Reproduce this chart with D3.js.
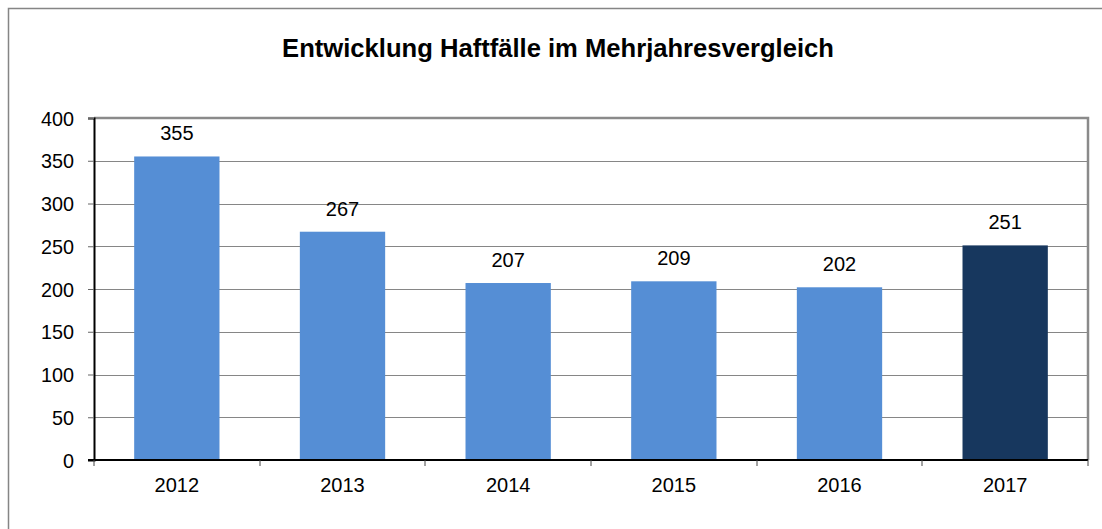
<!DOCTYPE html>
<html>
<head>
<meta charset="utf-8">
<script src="https://cdn.jsdelivr.net/npm/d3@7.9.0/dist/d3.min.js"></script>
<style>
  html, body { margin: 0; padding: 0; background: #fff; }
  text { font-family: "Liberation Sans", Arial, sans-serif; fill: #000; }
</style>
</head>
<body>
<div id="chart"></div>
<script>
const years = ['2012', '2013', '2014', '2015', '2016', '2017'];
const cases = [355, 267, 207, 209, 202, 251];
const yTicks = [0, 50, 100, 150, 200, 250, 300, 350, 400];
const title = 'Entwicklung Haftfälle im Mehrjahresvergleich';

const width = 1102;
const height = 529;
const plot = { left: 94, right: 1088, top: 118, bottom: 460 };

const svg = d3.select('#chart')
    .append('svg')
    .attr('width', width)
    .attr('height', height);

// Outer frame (cut off at right and bottom)
svg.append('rect')
    .attr('x', 8.5)
    .attr('y', 8.5)
    .attr('width', width + 20)
    .attr('height', height + 20)
    .attr('fill', 'none')
    .attr('stroke', '#858585')
    .attr('stroke-width', 1.5);

svg.append('text')
    .attr('x', 558)
    .attr('y', 57)
    .attr('text-anchor', 'middle')
    .attr('font-size', 25.6)
    .attr('font-weight', 'bold')
    .text(title);

const x = d3.scaleBand()
    .domain(years)
    .range([plot.left, plot.right])
    .paddingInner(0.485)
    .paddingOuter(0.2425);

const y = d3.scaleLinear()
    .domain([0, 400])
    .range([plot.bottom, plot.top]);

// Gridlines
svg.append('g')
    .selectAll('line')
    .data(yTicks.filter(d => d > 0 && d < 400))
    .join('line')
    .attr('x1', plot.left)
    .attr('x2', plot.right)
    .attr('y1', d => Math.round(y(d)) + 0.5)
    .attr('y2', d => Math.round(y(d)) + 0.5)
    .attr('stroke', '#868686')
    .attr('stroke-width', 1);

// Plot border top / right
svg.append('path')
    .attr('d', `M${plot.left},${plot.top} H${plot.right} V${plot.bottom}`)
    .attr('fill', 'none')
    .attr('stroke', '#8a8a8a')
    .attr('stroke-width', 2.5);

// Bars
svg.append('g')
    .selectAll('rect')
    .data(years.map((yr, i) => ({ yr, v: cases[i] })))
    .join('rect')
    .attr('x', d => x(d.yr))
    .attr('y', d => y(d.v))
    .attr('width', x.bandwidth())
    .attr('height', d => y(0) - y(d.v))
    .attr('fill', d => d.yr === '2017' ? '#17375e' : '#558ed5');

// Value labels
svg.append('g')
    .selectAll('text')
    .data(years.map((yr, i) => ({ yr, v: cases[i] })))
    .join('text')
    .attr('x', d => x(d.yr) + x.bandwidth() / 2)
    .attr('y', d => y(d.v) - 16)
    .attr('text-anchor', 'middle')
    .attr('font-size', 20)
    .text(d => d.v);

// Y axis
const yAxis = svg.append('g')
    .attr('transform', `translate(${plot.left},0)`)
    .call(d3.axisLeft(y).tickValues(yTicks).tickSize(6).tickPadding(14));
yAxis.select('.domain').attr('stroke', '#000').attr('stroke-width', 2);
yAxis.selectAll('.tick line').attr('stroke', '#666');
yAxis.selectAll('.tick text')
    .attr('font-size', 19.8)
    .attr('font-family', '"Liberation Sans", Arial, sans-serif')
    .attr('dy', '0.36em');

// X axis
const xEdges = d3.scaleLinear().domain([0, years.length]).range([plot.left, plot.right]);
const xAxis = svg.append('g')
    .attr('transform', `translate(0,${plot.bottom})`);
xAxis.append('line')
    .attr('x1', plot.left - 6)
    .attr('x2', plot.right)
    .attr('stroke', '#000')
    .attr('stroke-width', 2);
xAxis.selectAll('.edge')
    .data(d3.range(years.length + 1))
    .join('line')
    .attr('class', 'edge')
    .attr('x1', d => Math.round(xEdges(d)))
    .attr('x2', d => Math.round(xEdges(d)))
    .attr('y1', 0)
    .attr('y2', 6)
    .attr('stroke', '#444');
xAxis.selectAll('.cat')
    .data(years)
    .join('text')
    .attr('class', 'cat')
    .attr('x', d => x(d) + x.bandwidth() / 2)
    .attr('y', 32)
    .attr('text-anchor', 'middle')
    .attr('font-size', 20)
    .text(d => d);
</script>
</body>
</html>
